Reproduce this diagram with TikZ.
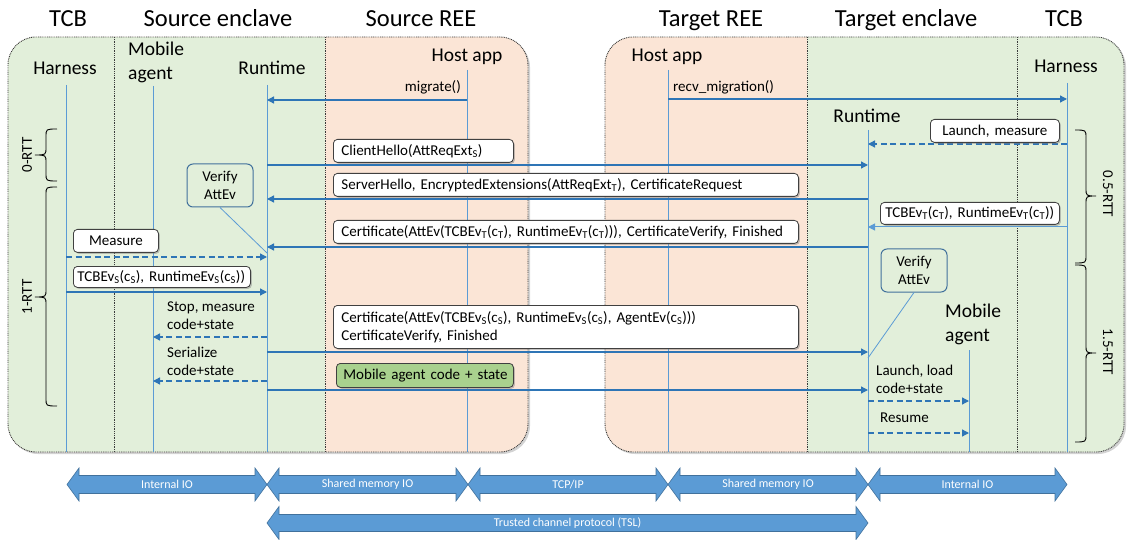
\documentclass[tikz,border=0pt]{standalone}
\usepackage{fontspec}
\setmainfont{Carlito}
\usetikzlibrary{arrows.meta,shadows}

\definecolor{encl}{HTML}{E2EFDA}
\definecolor{ree}{HTML}{FBE5D6}
\definecolor{life}{HTML}{5B9BD5}
\definecolor{flow}{HTML}{2E75B6}
\definecolor{ioedge}{HTML}{41719C}
\definecolor{agentbox}{HTML}{A9D18E}
\definecolor{frame}{HTML}{3A3A3A}

\newcommand\ftitle{\fontsize{24.5}{28}\selectfont}
\newcommand\factor{\fontsize{19.5}{23.5}\selectfont}
\newcommand\fmsg{\fontsize{15}{18}\selectfont}
\newcommand\fio{\fontsize{12}{14}\selectfont}
\newcommand\sbs[1]{\textsubscript{#1}}

% vertical brace: ends x, straight x, tip x, top y, tip y, bottom y
\newcommand\rttbrace[6]{%
  \draw[rtt] (#1,#4) .. controls (#2,#4) .. (#2,#4+8) -- (#2,#5-8)
    .. controls (#2,#5) .. (#3,#5) .. controls (#2,#5) .. (#2,#5+8)
    -- (#2,#6-8) .. controls (#2,#6) .. (#1,#6);}

% double-headed band: name, left x, right x, centre y, half shaft, half head, label
\newcommand\ioband[7]{%
  \path[ioarrow] (#2,#4) -- (#2+12,#4-#6) -- (#2+12,#4-#5) -- (#3-12,#4-#5)
    -- (#3-12,#4-#6) -- (#3,#4) -- (#3-12,#4+#6) -- (#3-12,#4+#5)
    -- (#2+12,#4+#5) -- (#2+12,#4+#6) -- cycle;
  \node[iolabel] (#1) at ({(#2+#3)/2},#4) {#7};}

\begin{document}
\begin{tikzpicture}[x=1pt, y=-1pt,
  title/.style={font=\ftitle, inner sep=0pt, anchor=base},
  actor/.style={font=\factor, inner sep=0pt, align=left},
  lifeline/.style={draw=life, line width=0.9pt},
  panelframe/.style={draw=frame, line width=0.9pt, dash pattern=on 0.9pt off 0.9pt},
  panelshadow/.style={drop shadow={shadow xshift=2pt, shadow yshift=-2pt, opacity=0.35}},
  msg/.style={draw=flow, line width=1.3pt, -{Triangle[length=7pt,width=7pt]}},
  ctrl/.style={msg, dash pattern=on 6pt off 3.5pt},
  lightmsg/.style={draw=life, line width=1pt, -{Triangle[length=7pt,width=7pt]}},
  msgbox/.style={draw=black!75, fill=white, line width=0.8pt, rounded corners=4pt,
    inner xsep=8pt, inner ysep=2pt, font=\fmsg, align=left, anchor=north west,
    drop shadow={shadow xshift=1.5pt, shadow yshift=-1.5pt, opacity=0.45}},
  agentmsg/.style={msgbox, fill=agentbox},
  note/.style={font=\fmsg, inner sep=0pt, align=left},
  verify/.style={draw=ioedge, fill=encl, line width=1pt, rounded corners=6pt,
    font=\fmsg, align=center, minimum width=66pt, minimum height=43pt, inner sep=0pt},
  callout/.style={draw=life, line width=0.8pt},
  rtt/.style={draw=black, line width=0.9pt},
  rttlabel/.style={font=\fmsg, inner sep=0pt},
  ioarrow/.style={fill=life, draw=ioedge, line width=0.6pt},
  iolabel/.style={font=\fio, text=white, inner sep=0pt}]

\useasboundingbox (0,0) rectangle (1130,540);

% ---------- source device: TCB + enclave (green) and REE (salmon)
\fill[ree, rounded corners=28pt, panelshadow] (8,37) rectangle (528,452);
\begin{scope}
  \clip[rounded corners=28pt] (8,37) rectangle (528,452);
  \fill[encl] (8,37) rectangle (325,452);
\end{scope}
\draw[panelframe, rounded corners=28pt] (8,37) rectangle (528,452);
\draw[panelframe] (114,37) -- (114,452) (325,37) -- (325,452);

% ---------- target device: REE (salmon) + enclave and TCB (green)
\fill[encl, rounded corners=28pt, panelshadow] (605,37) rectangle (1124,452);
\begin{scope}
  \clip[rounded corners=28pt] (605,37) rectangle (1124,452);
  \fill[ree] (605,37) rectangle (807,452);
\end{scope}
\draw[panelframe, rounded corners=28pt] (605,37) rectangle (1124,452);
\draw[panelframe] (807,37) -- (807,452) (1017,37) -- (1017,452);

% ---------- column titles
\node[title] (tTcbS) at (68,27)   {TCB};
\node[title] (tEncS) at (218,27)  {Source enclave};
\node[title] (tReeS) at (421,27)  {Source REE};
\node[title] (tReeT) at (711,27)  {Target REE};
\node[title] (tEncT) at (906,27)  {Target enclave};
\node[title] (tTcbT) at (1064,27) {TCB};

% ---------- participants
\node[actor, anchor=base] (aHarS) at (65,75) {Harness};
\node[actor, anchor=north west] (aAgS) at (128,42) {Mobile\\agent};
\node[actor, anchor=base] (aRunS) at (272,75) {Runtime};
\node[actor, anchor=base] (aHostS) at (467,62) {Host app};
\node[actor, anchor=base] (aHostT) at (667,62) {Host app};
\node[actor, anchor=base] (aRunT) at (867,123) {Runtime};
\node[actor, anchor=north west] (aAgT) at (945,304) {Mobile\\agent};
\node[actor, anchor=base] (aHarT) at (1066,73) {Harness};

% ---------- lifelines
\coordinate (sHar) at (66,85);
\coordinate (sAg) at (153,86);
\coordinate (sRun) at (267,85);
\coordinate (sHost) at (467,70);
\coordinate (tHost) at (668,70);
\coordinate (tRun) at (868,130);
\coordinate (tAg) at (969,350);
\coordinate (tHar) at (1067,83);
\coordinate (bot) at (0,452);
\foreach \l in {sHar,sAg,sRun,sHost,tHost,tRun,tAg,tHar}
  \draw[lifeline] (\l) -- (\l |- bot);

% ---------- RTT braces
\rttbrace{57}{46}{35}{129}{155}{181}
\rttbrace{57}{46}{35}{187}{297}{406}
\rttbrace{1075}{1086}{1096}{130}{196}{263}
\rttbrace{1075}{1086}{1096}{265}{353}{442}
\node[rttlabel, rotate=90] (r0) at (27,155) {0-RTT};
\node[rttlabel, rotate=90] (r1) at (27,297) {1-RTT};
\node[rttlabel, rotate=-90] (r05) at (1108,194) {0.5-RTT};
\node[rttlabel, rotate=-90] (r15) at (1108,352) {1.5-RTT};

% ---------- host-app calls
\draw[msg] (sHost |- 0,100) -- (sRun |- 0,100);
\node[note, anchor=base east] (lMig) at (461,92) {migrate()};
\draw[msg] (tHost |- 0,99) -- (tHar |- 0,99);
\node[note, anchor=base west] (lRecv) at (673,92) {recv\_migration()};

% ---------- target launch
\draw[ctrl] (tHar |- 0,144) -- (tRun |- 0,144);
\node[msgbox, text width=113pt, align=center, minimum height=23pt] (bLaunch) at (930,119) {Launch, measure};

% ---------- handshake
\draw[msg] (sRun |- 0,165) -- (tRun |- 0,165);
\node[msgbox, text width=164pt, minimum height=23pt] (bCH) at (333,139) {\mbox{ClientHello(AttReqExt\sbs{S})}};

\draw[msg] (tRun |- 0,199) -- (sRun |- 0,199);
\node[msgbox, text width=449pt, minimum height=23pt] (bSH) at (333,173) {\mbox{ServerHello, EncryptedExtensions(AttReqExt\sbs{T}), CertificateRequest}};

\draw[lightmsg] (tHar |- 0,227) -- (tRun |- 0,227);
\node[msgbox, inner xsep=5pt, text width=169pt, minimum height=22pt] (bEvT) at (880,202) {\mbox{TCBEv\sbs{T}(c\sbs{T}), RuntimeEv\sbs{T}(c\sbs{T}))}};

\draw[msg] (tRun |- 0,247) -- (sRun |- 0,247);
\node[msgbox, text width=449pt, minimum height=23pt] (bCertT) at (333,220) {\mbox{Certificate(AttEv(TCBEv\sbs{T}(c\sbs{T}), RuntimeEv\sbs{T}(c\sbs{T}))), CertificateVerify, Finished}};

\node[verify] (vS) at (220,185.5) {Verify\\AttEv};
\draw[callout] (vS.south) -- (sRun |- 0,253);

% ---------- source measurement
\draw[ctrl] (sHar |- 0,257) -- (sRun |- 0,257);
\node[msgbox, text width=69pt, align=center, minimum height=23pt] (bMeas) at (73,229) {Measure};

\draw[msg] (sHar |- 0,292) -- (sRun |- 0,292);
\node[msgbox, inner xsep=4pt, text width=169pt, minimum height=21pt] (bEvS) at (73,266) {\mbox{TCBEv\sbs{S}(c\sbs{S}), RuntimeEv\sbs{S}(c\sbs{S}))}};

\draw[ctrl] (sRun |- 0,337) -- (sAg |- 0,337);
\node[note, anchor=north west] (lStop) at (167,302) {Stop, measure\\code+state};

\draw[msg] (sRun |- 0,352) -- (tRun |- 0,352);
\node[msgbox, text width=449pt, minimum height=43pt] (bCertS) at (333,305) {\mbox{Certificate(AttEv(TCBEv\sbs{S}(c\sbs{S}), RuntimeEv\sbs{S}(c\sbs{S}), AgentEv(c\sbs{S})))}\\CertificateVerify, Finished};

\draw[ctrl] (sRun |- 0,381) -- (sAg |- 0,381);
\node[note, anchor=north west] (lSer) at (167,347) {Serialize\\code+state};

\draw[msg] (sRun |- 0,390) -- (tRun |- 0,390);
\node[agentmsg, inner xsep=7pt, text width=163pt, minimum height=24pt] (bAgent) at (336,363) {\mbox{Mobile agent code + state}};

\node[verify] (vT) at (914,270.5) {Verify\\AttEv};
\draw[callout] (vT.south) -- (tRun |- 0,358);

% ---------- target resumes the agent
\node[note, anchor=north west] (lLoad) at (876,365) {Launch, load\\code+state};
\draw[ctrl] (tRun |- 0,401) -- (tAg |- 0,401);
\node[note, anchor=base west] (lRes) at (880,422) {Resume};
\draw[ctrl] (tRun |- 0,433) -- (tAg |- 0,433);

% ---------- communication layers
\ioband{ioA}{67}{267}{484.5}{9}{16.5}{Internal IO}
\ioband{ioB}{267}{468}{484.5}{9}{16.5}{Shared memory IO}
\ioband{ioC}{468}{668}{484.5}{9}{16.5}{TCP/IP}
\ioband{ioD}{668}{868}{484.5}{9}{16.5}{Shared memory IO}
\ioband{ioE}{868}{1067}{484.5}{9}{16.5}{Internal IO}
\ioband{ioF}{267}{868}{523}{8.5}{16.5}{Trusted channel protocol (TSL)}

\end{tikzpicture}
\end{document}
